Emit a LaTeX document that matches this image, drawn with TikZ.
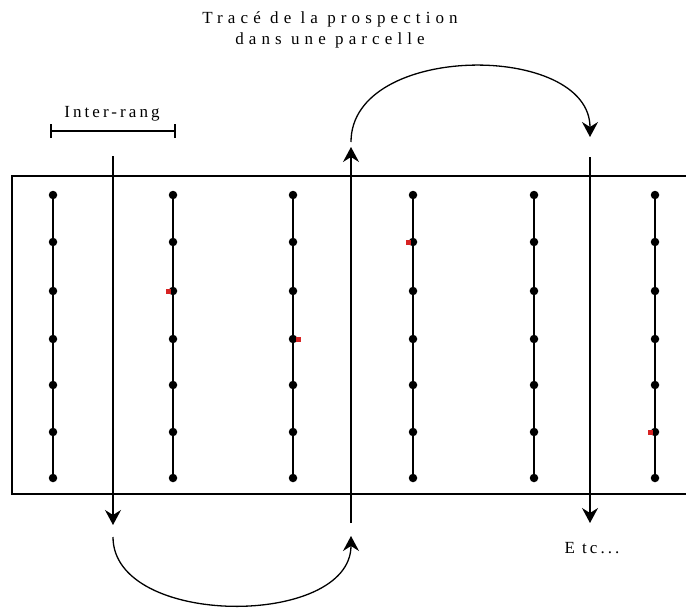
\documentclass[tikz,border=0pt]{standalone}
\usepackage{fontspec}
\setmainfont{Liberation Serif}
\usetikzlibrary{arrows.meta}
\definecolor{spotred}{RGB}{215,35,35}

\tikzset{
  stock/.style={circle,fill=black,inner sep=0pt,minimum size=8.5pt},
  spot/.style={rectangle,fill=spotred,inner sep=0pt,minimum size=5pt},
  walk/.style={line width=1.3pt,-{Stealth[length=15pt,width=16pt,inset=5pt]}},
  lbl/.style={font=\fontsize{17}{21}\selectfont\addfontfeature{LetterSpace=30},align=center,inner sep=0pt}
}

\begin{document}
\begin{tikzpicture}[x=1pt,y=-1pt]
\useasboundingbox (0,0) rectangle (686,610);
\clip (0,0) rectangle (686,610);
% title
\node[lbl] (title) at (330,30) {Tracé de la prospection\\dans une parcelle};
% inter-rang scale
\coordinate (ira) at (51,131);
\coordinate (irb) at (175,131);
\draw[line width=1.2pt] (ira) -- (irb);
\draw[line width=1.2pt] ([yshift=-7pt]ira) -- ([yshift=7pt]ira);
\draw[line width=1.2pt] ([yshift=-7pt]irb) -- ([yshift=7pt]irb);
\node[lbl,font=\fontsize{17}{21}\selectfont\addfontfeature{LetterSpace=18}] (ir) at (112,114) {Inter-rang};
% plot
\draw[line width=1.3pt] (12,176) rectangle (700,494);
% vine rows
\foreach \i/\x in {1/53,2/173,3/293,4/413,5/534,6/655}{
  \foreach \j/\y in {1/195,2/242,3/291,4/339,5/385,6/432,7/478}
    \node[stock] (s\i-\j) at (\x,\y) {};
  \draw[line width=1.3pt] (s\i-1.center) -- (s\i-7.center);
}
% infected stocks
\node[spot] (r1) at ([xshift=-5pt]s2-3) {};
\node[spot] (r2) at ([xshift=5pt]s3-4) {};
\node[spot] (r3) at ([xshift=-5pt]s4-2) {};
\node[spot] (r4) at ([xshift=-5pt]s6-6) {};
% walk
\coordinate (p1) at (113,156);
\coordinate (p2) at (113,525);
\coordinate (p3) at (113,537);
\coordinate (p4) at (351,536);
\coordinate (p5) at (351,523);
\coordinate (p6) at (351,147);
\coordinate (p7) at (351,142);
\coordinate (p8) at (590,137);
\coordinate (p9) at (590,157);
\coordinate (p10) at (590,523);
\draw[walk] (p1) -- (p2);
\draw[walk] (p3) .. controls (113,628) and (351,628) .. (p4);
\draw[walk] (p5) -- (p6);
\draw[walk] (p7) .. controls (351,42) and (590,42) .. (p8);
\draw[walk] (p9) -- (p10);
\node[lbl,font=\fontsize{17}{21}\selectfont\addfontfeature{LetterSpace=18}] (etc) at (592,548) {E tc...};
\end{tikzpicture}
\end{document}
